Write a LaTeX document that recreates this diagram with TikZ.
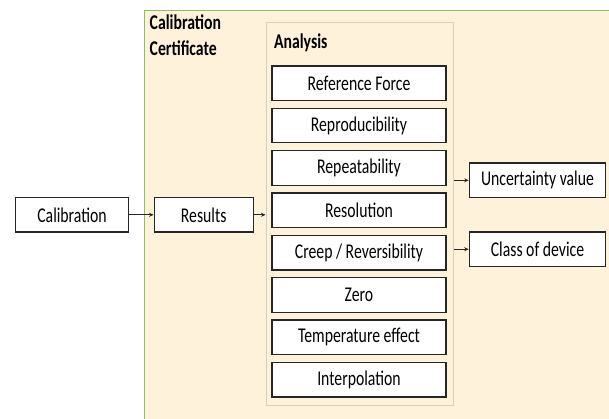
\documentclass[tikz,border=0pt]{standalone}
\usepackage{fontspec}
\setmainfont{Carlito}[FakeStretch=0.75]
\usetikzlibrary{arrows.meta, positioning, calc}
\definecolor{certfill}{RGB}{254,243,218}
\definecolor{certgreen}{RGB}{141,190,96}
\definecolor{analysisgray}{RGB}{212,209,196}
\definecolor{boxline}{RGB}{38,38,38}
\tikzstyle{block} = [rectangle, draw=boxline, line width=1.2pt, fill=white, minimum height=34.5pt, inner sep=0pt, text centered, font=\fontsize{21}{24}\selectfont]
\tikzstyle{item} = [block, minimum width=174pt]
\tikzstyle{heading} = [inner sep=0pt, align=left, font=\fontsize{21}{25.6}\selectfont\bfseries]
\tikzstyle{arrow} = [line width=1pt, draw=boxline, -{Stealth[length=4.5pt, width=4pt]}]

\begin{document}
\begin{tikzpicture}[x=1pt, y=-1pt]
\useasboundingbox (0,0) rectangle (609,418);

% Certificate area
\node[rectangle, draw=certgreen, line width=0.8pt, fill=certfill, minimum width=480pt, minimum height=420pt, anchor=north west] (cert) at (143.7,10) {};
\node[heading, anchor=north west] (certlbl) at (149.5,14.5) {Calibration\\Certificate};

% Analysis group
\node[rectangle, draw=analysisgray, line width=1pt, fill=certfill, minimum width=187.6pt, minimum height=382.3pt] (analysis) at (359.8,213.85) {};
\node[heading, anchor=base west] (analysislbl) at (273.8,48.3) {Analysis};

\node[item] (refforce) at (359,83.3) {Reference Force};
\node[item] (reprod) at (359,125.6) {Reproducibility};
\node[item] (repeat) at (359,168.0) {Repeatability};
\node[item] (resol) at (359,210.3) {Resolution};
\node[item] (creep) at (359,252.7) {Creep / Reversibility};
\node[item] (zero) at (359,295.0) {Zero};
\node[item] (temp) at (359,337.3) {Temperature effect};
\node[item] (interp) at (359,379.7) {Interpolation};

% Inputs
\node[block, minimum width=113pt] (calib) at (72,214.8) {Calibration};
\node[block, minimum width=99pt] (results) at (203.7,214.8) {Results};

% Outputs
\node[block, minimum width=136.4pt] (uncert) at (537.5,180.3) {Uncertainty value};
\node[block, minimum width=136.4pt] (class) at (537.5,249.2) {Class of device};

% Connections
\draw[arrow] (calib) -- (results);
\draw[arrow] (results.east) -- (analysis.west |- results.east);
\draw[arrow] (uncert.west -| analysis.east) -- (uncert.west);
\draw[arrow] (class.west -| analysis.east) -- (class.west);

\end{tikzpicture}
\end{document}
